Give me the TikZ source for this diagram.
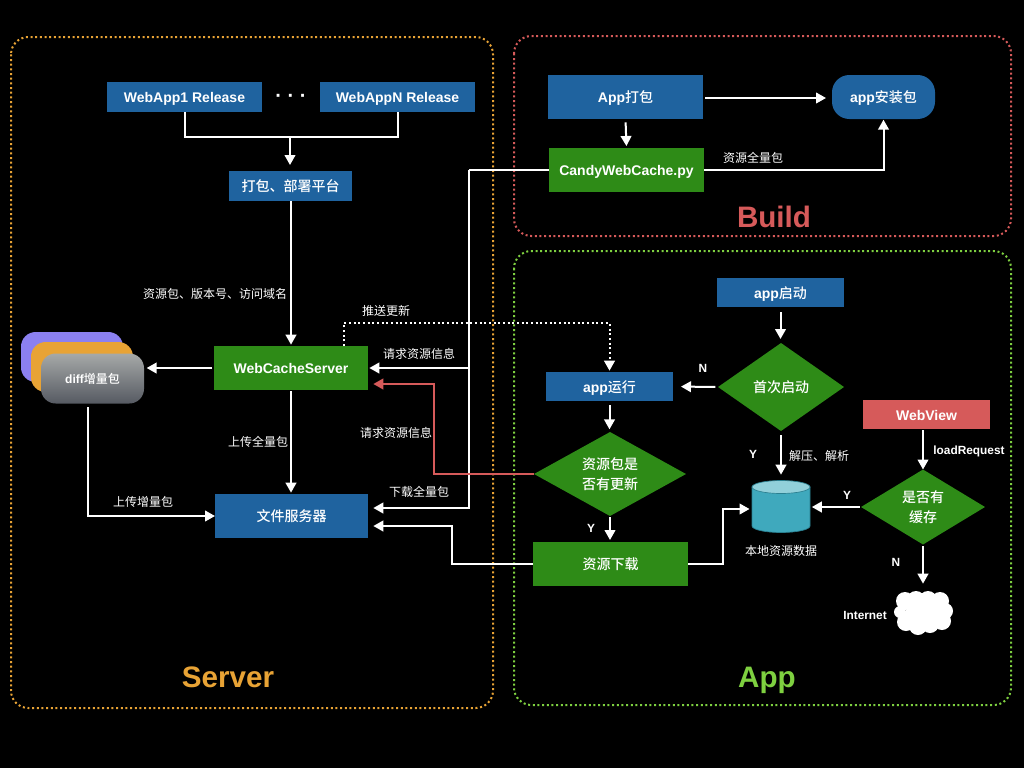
\documentclass[tikz,border=0pt]{standalone}
\usepackage{fontspec}
\setmainfont{Liberation Sans}
\newfontfamily\cjk[BoldFont={Noto Sans CJK SC Medium}]{Noto Sans CJK SC}
\usetikzlibrary{arrows.meta,calc,shapes.geometric,positioning}
\newcommand{\zh}[1]{{\cjk #1}}
\definecolor{cblue}{HTML}{1F639F}
\definecolor{cgreen}{HTML}{2E8B17}
\definecolor{cred}{HTML}{D65A5A}
\definecolor{corange}{HTML}{E8A335}
\definecolor{cpurple}{HTML}{8B80F0}
\definecolor{cappg}{HTML}{7ED040}
\definecolor{cdbbody}{HTML}{3FA9BD}
\definecolor{cdbtop}{HTML}{91D0DA}
\definecolor{cdbline}{HTML}{2A7F90}
\definecolor{cgraytop}{HTML}{A6A9A8}
\definecolor{cgraybot}{HTML}{565A62}
\tikzset{
  x=0.75pt,y=-0.75pt,
  boxsz/.style 2 args={minimum width=#1*0.75pt,minimum height=#2*0.75pt,inner sep=0pt,outer sep=0pt,text=white,text height=9pt,text depth=0.5pt,font=\fontsize{10.5}{12}\selectfont\bfseries},
  bluebox/.style={fill=cblue},
  greenbox/.style={fill=cgreen},
  redbox/.style={fill=cred},
  decision/.style n args={3}{diamond,fill=cgreen,aspect=#3,minimum width=#1*0.75pt,minimum height=#2*0.75pt,inner sep=0pt,outer sep=0pt,text=white,align=center,font=\fontsize{10.5}{15}\selectfont\bfseries},
  lbl/.style={text=white,inner sep=0pt,font=\fontsize{9}{11}\selectfont},
  tag/.style={text=white,inner sep=0pt,font=\fontsize{8.9}{10}\selectfont\bfseries},
  arr/.style={draw=white,line width=1.5pt,-{Triangle[width=8pt,length=7.5pt]}},
  plain/.style={draw=white,line width=1.5pt},
  group/.style={draw=#1,line width=1.5pt,dotted,rounded corners=13pt},
  title/.style={inner sep=0pt,font=\fontsize{22.2}{26}\selectfont\bfseries},
  stack/.style={rounded corners=11pt,minimum width=102*0.75pt,minimum height=50*0.75pt,inner sep=0pt,outer sep=0pt},
  puff/.style={fill=white,draw=none}
}
\begin{document}
\begin{tikzpicture}
\useasboundingbox (0,0) rectangle (1024,768);
\fill[black] (0,0) rectangle (1024,768);
% groups
\draw[group=corange] (11,37) rectangle (493,708);
\draw[group=cred] (514,36) rectangle (1011,236);
\draw[group=cappg] (514,251) rectangle (1011,705);
\node[title,text=corange] (tserver) at (228,677) {Server};
\node[title,text=cred] (tbuild) at (774,217) {Build};
\node[title,text=cappg] (tapp) at (767,680) {App};
% server nodes
\node[boxsz={155}{30},bluebox] (web1) at (184.5,97) {WebApp1 Release};
\node[boxsz={155}{30},bluebox] (webn) at (397.5,97) {WebAppN Release};
\node[text=white,inner sep=0pt,font=\fontsize{15}{17}\selectfont\bfseries] (dots) at (291,98) {· · ·};
\node[boxsz={123}{30},bluebox] (plat) at (290.5,186) {\zh{打包、部署平台}};
\node[boxsz={154}{44},greenbox] (wcs) at (291,368) {WebCacheServer};
\node[boxsz={153}{44},bluebox] (file) at (291.5,516) {\zh{文件服务器}};
\node[stack,fill=cpurple] (d1) at (72,357) {};
\node[stack,fill=corange] (d2) at (82,367) {};
\node[stack,top color=cgraytop,bottom color=cgraybot,minimum width=103*0.75pt,text=white,font=\fontsize{9}{10}\selectfont\bfseries] (diff) at (92.5,378.5) {diff\zh{增量包}};
% build nodes
\node[boxsz={155}{44},bluebox] (appb) at (625.5,97) {App\zh{打包}};
\node[boxsz={155}{44},greenbox] (candy) at (626.5,170) {CandyWebCache.py};
\node[boxsz={103}{44},bluebox,rounded corners=13pt] (pkg) at (883.5,97) {app\zh{安装包}};
% app nodes
\node[boxsz={127}{29},bluebox] (start) at (780.5,292.5) {app\zh{启动}};
\node[boxsz={127}{29},bluebox] (run) at (609.5,386.5) {app\zh{运行}};
\node[boxsz={127}{29},redbox] (wv) at (926.5,414.5) {WebView};
\node[decision={126}{88}{1.43}] (first) at (781,387) {\zh{首次启动}};
\node[decision={152}{84}{1.81}] (upd) at (610,474) {\zh{资源包是}\\\zh{否有更新}};
\node[decision={124}{75}{1.65}] (cache) at (923,507) {\zh{是否有}\\\zh{缓存}};
\node[boxsz={155}{44},greenbox] (down) at (610.5,564) {\zh{资源下载}};
% database
\fill[cdbbody,draw=cdbline,line width=0.5pt] (752,487) -- (752,526) arc[start angle=180,end angle=0,x radius=29,y radius=6.5] -- (810,487) -- cycle;
\fill[cdbtop,draw=cdbline,line width=0.5pt] (781,487) ellipse[x radius=29,y radius=6.5];
\node[minimum width=59*0.75pt,minimum height=53*0.75pt,inner sep=0pt,outer sep=0pt] (db) at (781,506.5) {};
% cloud
\begin{scope}
\foreach \cx/\cy/\r in {905/601/9,916/600/9,928/600/9,940/601/9,945/611/8,942/621/9,930/624/9,918/626/9,906/622/9,900/612/6,923/612/17}
  \fill[puff] (\cx,\cy) circle[radius=\r];
\end{scope}
\coordinate (cloudtop) at (923,589);
% labels
\node[lbl] (l1) at (215,294) {\zh{资源包、版本号、访问域名}};
\node[lbl] (l2) at (386,311) {\zh{推送更新}};
\node[lbl] (l3) at (419,354) {\zh{请求资源信息}};
\node[lbl] (l4) at (396,433) {\zh{请求资源信息}};
\node[lbl] (l5) at (419,492) {\zh{下载全量包}};
\node[lbl] (l6) at (258,442) {\zh{上传全量包}};
\node[lbl] (l7) at (143,502) {\zh{上传增量包}};
\node[lbl] (l8) at (753,158) {\zh{资源全量包}};
\node[lbl] (l9) at (819,456) {\zh{解压、解析}};
\node[lbl] (l10) at (781,551) {\zh{本地资源数据}};
\node[tag] (n1) at (703,368) {N};
\node[tag] (y1) at (753,454) {Y};
\node[tag] (y2) at (591,528) {Y};
\node[tag] (y3) at (847,495) {Y};
\node[tag] (n2) at (896,562) {N};
\node[tag] (lr) at (969,451) {loadRequest};
\node[tag] (inet) at (865,615) {Internet};
% connectors server
\coordinate (junc) at (290,137);
\draw[plain] (web1.south) |- (junc) -| (webn.south);
\draw[arr,shorten >=6*0.75pt] (junc) -- (junc|-plat.north);
\draw[arr,shorten >=1pt] (plat.south-|wcs.north) -- (wcs.north);
\draw[arr,shorten <=1.5pt,shorten >=2pt] (wcs.west) -- (diff.east|-wcs.west);
\draw[arr,shorten <=1pt,shorten >=1pt] (wcs.south) -- (file.north-|wcs.south);
\coordinate (dstart) at (88,407);
\draw[arr] (dstart) |- (file.west);
\coordinate (pushup) at (344,323);
\draw[arr,dotted,-{Triangle[width=8pt,length=7.5pt]},shorten >=1pt] ($(wcs.north)+(53,0)$) -- (pushup) -| (run.north);
% build connectors
\draw[arr,shorten <=2.5pt,shorten >=1.5pt] (appb.south) -- (candy.north);
\draw[arr,shorten <=1.5pt,shorten >=4.5pt] ($(appb.east)+(0,1)$) -- ($(pkg.west)+(0,1)$);
\draw[arr,shorten >=0.5pt] (candy.east) -| (pkg.south);
\coordinate (bus) at (469,170);
\draw[plain] (candy.west) -- (bus);
\draw[arr,shorten >=1pt] (bus) |- (wcs.east);
\draw[arr,shorten >=4pt] (bus) |- ($(file.east)+(0,-8)$);
% app connectors
\draw[draw=cred,line width=1.5pt,-{Triangle[width=8pt,length=7.5pt]},shorten >=4pt] (upd.west) -| (434,384) -- ($(wcs.east)+(0,16)$);
\draw[arr,shorten >=4pt] (down.west) -| (452,526) -- ($(file.east)+(0,10)$);
\draw[arr] (down.east) -| (723,509) -- ($(db.west)+(-2,2.5)$);
\draw[arr,shorten <=3pt,shorten >=2pt] (run.south) -- (run.south|-upd.north);
\draw[arr,shorten <=1pt,shorten >=1.5pt] (upd.south) -- (down.north-|upd.south);
\draw[arr,shorten <=4pt,shorten >=3pt] (start.south) -- (start.south|-first.north);
\draw[arr,shorten <=2pt,shorten >=6pt] (first.west) -- (run.east);
\draw[arr,shorten <=3pt,shorten >=4pt] (first.south) -- (first.south|-db.north);
\draw[arr,shorten <=1pt,shorten >=1pt] (cache.west) -- (db.east|-cache.west);
\draw[arr,shorten <=1pt] (wv.south-|cache.north) -- (cache.north);
\draw[arr,shorten <=1pt,shorten >=4pt] (cache.south) -- (cloudtop);
\end{tikzpicture}
\end{document}
